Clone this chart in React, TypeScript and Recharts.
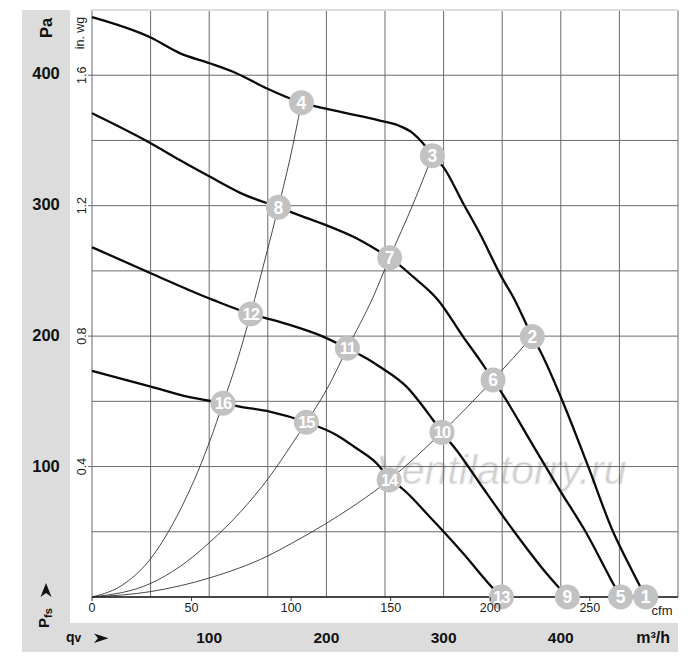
import React from 'react';
import { ComposedChart, Line, Scatter, XAxis, YAxis, CartesianGrid, ReferenceLine } from 'recharts';

const FONT = '"Liberation Sans", Arial, Helvetica, sans-serif';

// Units: q = air flow in m³/h, p = static pressure in Pa
const PA_MAX = 448.36; // 1.8 in. wg
const CFM_MAX = 294.29; // 500 m³/h

const fanCurve1 = [
  { q: 0, p: 442.9 }, { q: 50.1, p: 427.3 }, { q: 74.8, p: 415.4 }, { q: 100.4, p: 407.7 },
  { q: 123.2, p: 400.1 }, { q: 148.8, p: 388.6 }, { q: 178.7, p: 377.6 }, { q: 211.3, p: 370.7 },
  { q: 245.5, p: 363.9 }, { q: 262.5, p: 359.8 }, { q: 273.9, p: 354.2 }, { q: 282.4, p: 346.6 },
  { q: 290.4, p: 337.1 }, { q: 299.5, p: 328.7 }, { q: 316.6, p: 300.8 }, { q: 330.8, p: 277.8 },
  { q: 349.3, p: 244.7 }, { q: 360.7, p: 226.9 }, { q: 375.7, p: 198.9 }, { q: 382.0, p: 188.7 },
  { q: 401.4, p: 149.7 }, { q: 423.2, p: 100.1 }, { q: 444.5, p: 50.0 }, { q: 458.8, p: 23.7 },
  { q: 472.4, p: 0 },
];
const fanCurve2 = [
  { q: 0, p: 369.5 }, { q: 50.1, p: 346.6 }, { q: 74.8, p: 333.8 }, { q: 100.4, p: 321.1 },
  { q: 126.0, p: 308.9 }, { q: 159.0, p: 297.7 }, { q: 180.0, p: 290.5 }, { q: 202.8, p: 282.9 },
  { q: 225.6, p: 274.0 }, { q: 245.5, p: 263.8 }, { q: 254.0, p: 259.2 }, { q: 273.9, p: 244.7 },
  { q: 295.2, p: 226.9 }, { q: 316.6, p: 198.9 }, { q: 330.8, p: 181.1 }, { q: 342.2, p: 165.8 },
  { q: 350.7, p: 154.4 }, { q: 373.5, p: 120.0 }, { q: 399.1, p: 81.7 }, { q: 421.9, p: 48.7 },
  { q: 444.5, p: 10.5 }, { q: 451.0, p: 0 },
];
const fanCurve3 = [
  { q: 0, p: 267.2 }, { q: 50.1, p: 247.3 }, { q: 103.2, p: 226.9 }, { q: 135.4, p: 216.2 },
  { q: 148.8, p: 212.9 }, { q: 168.7, p: 207.8 }, { q: 197.1, p: 198.9 }, { q: 217.9, p: 190.0 },
  { q: 234.1, p: 182.3 }, { q: 245.5, p: 175.9 }, { q: 268.3, p: 160.7 }, { q: 291.0, p: 135.2 },
  { q: 298.6, p: 125.8 }, { q: 310.9, p: 112.3 }, { q: 330.8, p: 86.9 }, { q: 359.2, p: 51.2 },
  { q: 387.7, p: 18.1 }, { q: 405.6, p: 0 },
];
const fanCurve4 = [
  { q: 0, p: 172.7 }, { q: 50.1, p: 160.7 }, { q: 83.4, p: 152.6 }, { q: 111.8, p: 148.0 },
  { q: 126.0, p: 145.4 }, { q: 151.6, p: 141.6 }, { q: 182.9, p: 133.5 }, { q: 208.5, p: 123.8 },
  { q: 225.6, p: 113.6 }, { q: 245.5, p: 99.5 }, { q: 253.5, p: 89.4 }, { q: 262.6, p: 84.3 },
  { q: 288.1, p: 61.3 }, { q: 316.6, p: 33.4 }, { q: 342.2, p: 6.6 }, { q: 349.3, p: 0 },
];

const systemCurveA = [
  { q: 0, p: 0 }, { q: 28.2, p: 10.5 }, { q: 50.3, p: 29.6 }, { q: 65.2, p: 49.9 },
  { q: 79.4, p: 74.1 }, { q: 93.6, p: 103.0 }, { q: 100.7, p: 119.5 }, { q: 111.8, p: 148.0 },
  { q: 123.2, p: 178.5 }, { q: 135.4, p: 216.2 }, { q: 148.8, p: 262.0 }, { q: 159.0, p: 297.7 },
  { q: 168.7, p: 333.8 }, { q: 178.7, p: 377.6 },
];
const systemCurveB = [
  { q: 0, p: 0 }, { q: 50.3, p: 10.5 }, { q: 75.0, p: 23.2 }, { q: 100.7, p: 42.0 },
  { q: 127.7, p: 66.0 }, { q: 150.5, p: 90.7 }, { q: 170.4, p: 116.5 }, { q: 182.9, p: 133.5 },
  { q: 200.0, p: 158.1 }, { q: 217.9, p: 190.0 }, { q: 239.8, p: 229.0 }, { q: 254.0, p: 259.2 },
  { q: 273.9, p: 300.0 }, { q: 290.4, p: 337.1 },
];
const systemCurveC = [
  { q: 0, p: 0 }, { q: 50.5, p: 4.2 }, { q: 100.0, p: 14.5 }, { q: 149.9, p: 31.3 },
  { q: 170.4, p: 41.0 }, { q: 200.0, p: 56.3 }, { q: 253.5, p: 89.4 }, { q: 298.6, p: 125.8 },
  { q: 342.2, p: 165.8 }, { q: 375.7, p: 198.9 },
];

const operatingPoints = [
  { n: 1, q: 472.4, p: 0 }, { n: 2, q: 375.7, p: 198.9 }, { n: 3, q: 290.4, p: 337.1 },
  { n: 4, q: 178.7, p: 377.6 }, { n: 5, q: 451.0, p: 0 }, { n: 6, q: 342.2, p: 165.8 },
  { n: 7, q: 254.0, p: 259.2 }, { n: 8, q: 159.0, p: 297.7 }, { n: 9, q: 405.6, p: 0 },
  { n: 10, q: 298.6, p: 125.8 }, { n: 11, q: 217.9, p: 190.0 }, { n: 12, q: 135.4, p: 216.2 },
  { n: 13, q: 349.3, p: 0 }, { n: 14, q: 253.5, p: 89.4 }, { n: 15, q: 182.9, p: 133.5 },
  { n: 16, q: 111.8, p: 148.0 },
];

const qGridTicks = [0, 50, 100, 150, 200, 250, 300, 350, 400, 450, 500];
const qLabelTicks = [100, 200, 300, 400];
const cfmTicks = [0, 50, 100, 150, 200, 250];
const paTicks = [100, 200, 300, 400];
const inwgGridTicks = [0, 0.2, 0.4, 0.6, 0.8, 1, 1.2, 1.4, 1.6];
const inwgLabelTicks = [0.4, 0.8, 1.2, 1.6];

const fanCurves = [fanCurve1, fanCurve2, fanCurve3, fanCurve4];
const systemCurves = [systemCurveA, systemCurveB, systemCurveC];

function QTick(props: any) {
  const { x, y, payload } = props;
  if (!qLabelTicks.includes(payload.value)) return <g />;
  return (
    <text x={x} y={y + 14} dy="0.36em" textAnchor="middle" fontFamily={FONT} fontWeight="bold" fontSize={15.5} fill="#111">
      {payload.value}
    </text>
  );
}

function CfmTick(props: any) {
  const { x, y, payload } = props;
  return (
    <g>
      <line x1={x} x2={x} y1={y - 6} y2={y - 2} stroke="#333" strokeWidth={1} />
      <text x={x} y={y} dy="0.75em" textAnchor="middle" fontFamily={FONT} fontSize={12.5} fill="#222">
        {payload.value}
      </text>
    </g>
  );
}

function PaTick(props: any) {
  const { x, y, payload } = props;
  if (!paTicks.includes(payload.value)) return <g />;
  return (
    <text x={x - 24} y={y} dy="0.36em" textAnchor="middle" fontFamily={FONT} fontWeight="bold" fontSize={16.5} fill="#111">
      {payload.value}
    </text>
  );
}

function InwgTick(props: any) {
  const { x, y, payload } = props;
  const v = payload.value;
  if (!inwgLabelTicks.includes(v)) return <g />;
  const bx = x - 2;
  return (
    <g>
      <line x1={x} x2={x + 4} y1={y} y2={y} stroke="#666" strokeWidth={1} />
      <text transform={`rotate(-90 ${bx} ${y})`} x={bx} y={y} textAnchor="middle" fontFamily={FONT} fontSize={12.5} fill="#222">
        {v.toFixed(1)}
      </text>
    </g>
  );
}

function MarkerShape(props: any) {
  const { cx, cy, payload } = props;
  if (cx == null || cy == null) return <g />;
  const two = payload.n >= 10;
  return (
    <g>
      <circle cx={cx} cy={cy} r={12.5} fill="#c2c2c2" />
      <text x={cx} y={cy} dy="0.36em" textAnchor="middle" fill="#fff" fontWeight="bold" fontFamily={FONT}
        fontSize={two ? 16.5 : 17.5} letterSpacing={two ? -1 : 0}>
        {payload.n}
      </text>
    </g>
  );
}

export default function App() {
  return (
    <div style={{ position: 'absolute', left: 0, top: 0, width: 700, height: 667, background: '#fff', overflow: 'hidden' }}>
      {/* gray bands */}
      <div style={{ position: 'absolute', left: 22, top: 10, width: 48, height: 613, background: '#dcdcdc' }} />
      <div style={{ position: 'absolute', left: 22, top: 623, width: 656, height: 29, background: '#dcdcdc' }} />
      {/* watermark */}
      <svg width={700} height={667} style={{ position: 'absolute', left: 0, top: 0 }}>
        <text x={376} y={484} fontFamily={FONT} fontStyle="italic" fontSize={41} fill="#cdcdcd" stroke="#f0f0f0" strokeWidth={1}>
          Ventilatorry.ru
        </text>
      </svg>
      <div style={{ position: 'absolute', left: 0, top: 0 }}>
        <ComposedChart width={700} height={667} margin={{ top: 10, right: 22, bottom: 15, left: 22 }}>
          <XAxis xAxisId="cfm" dataKey="cfm" type="number" domain={[0, CFM_MAX]} allowDataOverflow ticks={cfmTicks}
            height={26} tickSize={4} tickMargin={2} interval={0}
            axisLine={{ stroke: '#222', strokeWidth: 1.6 }} tickLine={false} tick={<CfmTick />} />
          <XAxis xAxisId="q" dataKey="q" type="number" domain={[0, 500]} ticks={qGridTicks}
            height={29} tickSize={0} tickMargin={0} interval={0} axisLine={false} tickLine={false} tick={<QTick />} />
          <YAxis yAxisId="inwg" type="number" domain={[0, 1.8]} allowDataOverflow ticks={inwgGridTicks}
            width={22} tickSize={4} tickMargin={0} interval={0} axisLine={false} tickLine={false} tick={<InwgTick />} />
          <YAxis yAxisId="pa" dataKey="p" type="number" domain={[0, PA_MAX]} ticks={paTicks}
            width={48} tickSize={0} tickMargin={0} interval={0} axisLine={false} tickLine={false} tick={<PaTick />} />
          <CartesianGrid xAxisId="q" yAxisId="inwg" stroke="#6a6a6a" strokeWidth={1} />
          <ReferenceLine xAxisId="q" yAxisId="pa" y={PA_MAX} stroke="#dddddd" strokeWidth={2} />
          {systemCurves.map((d, i) => (
            <Line key={'s' + i} data={d} xAxisId="q" yAxisId="pa" dataKey="p" type="monotone"
              stroke="#333" strokeWidth={0.9} dot={false} activeDot={false} isAnimationActive={false} />
          ))}
          {fanCurves.map((d, i) => (
            <Line key={'f' + i} data={d} xAxisId="q" yAxisId="pa" dataKey="p" type="monotone"
              stroke="#0a0a0a" strokeWidth={2.3} dot={false} activeDot={false} isAnimationActive={false} />
          ))}
          <Scatter data={operatingPoints} xAxisId="q" yAxisId="pa" dataKey="p" shape={<MarkerShape />} isAnimationActive={false} />
        </ComposedChart>
      </div>
      {/* static labels */}
      <svg width={700} height={667} style={{ position: 'absolute', left: 0, top: 0, pointerEvents: 'none' }}>
        <text transform="translate(52 28) rotate(-90)" textAnchor="middle" fontFamily={FONT} fontWeight="bold" fontSize={16.5} fill="#111">Pa</text>
        <text transform="translate(84 33) rotate(-90)" textAnchor="middle" fontFamily={FONT} fontSize={12.5} fill="#222">in. wg</text>
        <text transform="translate(48.5 628) rotate(-90)" textAnchor="start" fontFamily={FONT} fontWeight="bold" fontSize={15} fill="#111">
          P<tspan fontSize={11} dy={3}>fs</tspan>
        </text>
        <polygon points="46,583 51.5,597 46,593 40.5,597" fill="#111" />
        <text x={66} y={642} fontFamily={FONT} fontWeight="bold" fontSize={14} fill="#111">q<tspan fontSize={12}>v</tspan></text>
        <polygon points="108.5,638.3 94,633.5 98,638.3 94,643" fill="#111" />
        <text x={670} y={642.5} textAnchor="end" fontFamily={FONT} fontWeight="bold" fontSize={16} fill="#111">m³/h</text>
        <text x={662} y={614.5} textAnchor="middle" fontFamily={FONT} fontSize={13} fill="#222">cfm</text>
      </svg>
    </div>
  );
}
